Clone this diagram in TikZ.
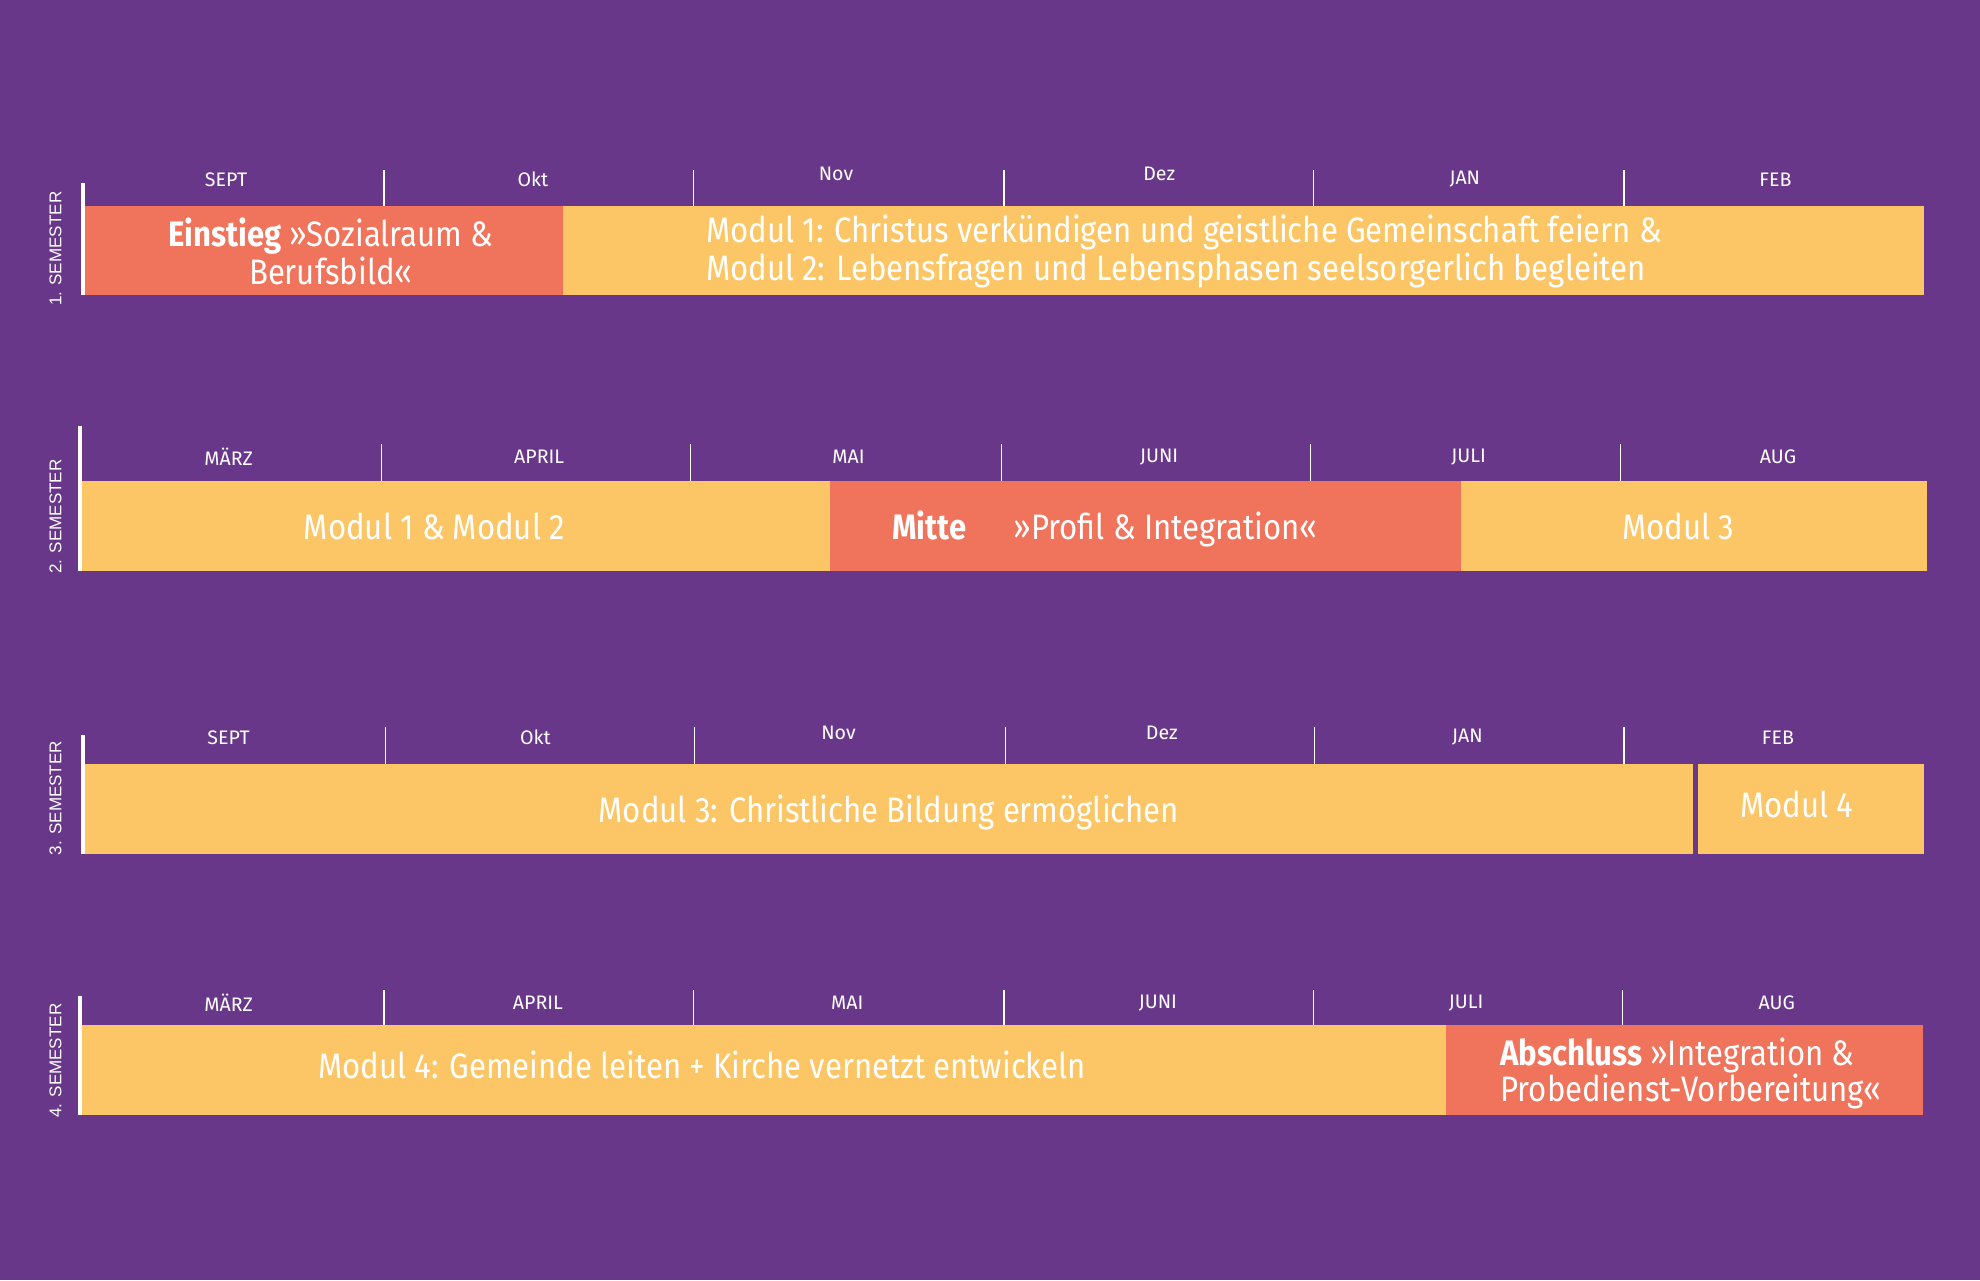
\documentclass[tikz,border=0pt]{standalone}
\usepackage{fontspec}
\setmainfont{Fira Sans}[FakeStretch=0.88]
\newfontfamily\monthfont{Fira Sans}
\newfontfamily\semfont{Liberation Sans}
\definecolor{bg}{RGB}{105,55,137}
\definecolor{yel}{RGB}{252,198,103}
\definecolor{cor}{RGB}{240,116,92}
\tikzset{
  box/.style={anchor=north west, inner sep=0pt, outer sep=0pt, minimum height=71pt},
  month/.style={text=white, inner sep=0pt, font=\monthfont\fontsize{15.5}{15.5}\selectfont},
  big/.style={text=white, inner sep=0pt, align=center, font=\fontsize{28}{30}\selectfont},
  sem/.style={text=white, inner sep=0pt, rotate=90, font=\semfont\fontsize{13.5}{13.5}\selectfont},
  tickline/.style={draw=white, line width=1pt},
  vbar/.style={draw=white, line width=3.5pt}
}
\begin{document}
\begin{tikzpicture}[x=1pt,y=-1pt]
\fill[bg] (0,0) rectangle (1568,1014);
\useasboundingbox (0,0) rectangle (1568,1014);

% ---------- Semester 1 ----------
\node[sem] (s1) at (44,197) {1. SEMESTER};
\draw[vbar] (65.5,145) -- (65.5,234);
\foreach \x in {304,549,795,1040,1286} \draw[tickline] (\x,135) -- (\x,163);
\node[month] (m1a) at (179,142) {SEPT};
\node[month] (m1b) at (422,142) {Okt};
\node[month] (m1c) at (662,138) {Nov};
\node[month] (m1d) at (918,138) {Dez};
\node[month] (m1e) at (1160,142) {JAN};
\node[month] (m1f) at (1406,142) {FEB};
\node[box, fill=cor, minimum width=379pt] (b1a) at (67,163) {};
\node[box, fill=yel, minimum width=1078pt] (b1b) at (446,163) {};
\node[big] (t1a) at (262,199) {\textbf{Einstieg} »Sozialraum \&\\Berufsbild«};
\node[big, align=left, anchor=west] (t1b) at (559,199) {Modul 1: Christus verkündigen und geistliche Gemeinschaft feiern \&\\Modul 2: Lebensfragen und Lebensphasen seelsorgerlich begleiten};

% ---------- Semester 2 ----------
\node[sem] (s2) at (44,409) {2. SEMESTER};
\draw[vbar] (63.5,337) -- (63.5,452);
\foreach \x in {302,547,793,1038,1283} \draw[tickline] (\x,352) -- (\x,381);
\node[month] (m2a) at (181,362) {MÄRZ};
\node[month] (m2b) at (427,362) {APRIL};
\node[month] (m2c) at (672,362) {MAI};
\node[month] (m2d) at (918,362) {JUNI};
\node[month] (m2e) at (1163,362) {JULI};
\node[month] (m2f) at (1408,362) {AUG};
\node[box, fill=yel, minimum width=593pt] (b2a) at (65,381) {};
\node[box, fill=cor, minimum width=500pt] (b2b) at (657,381) {};
\node[box, fill=yel, minimum width=369pt] (b2c) at (1157,381) {};
\node[big, anchor=base] (t2a) at (344,427) {Modul 1 \& Modul 2};
\node[big, anchor=base] (t2b) at (736,427) {\textbf{Mitte}};
\node[big, anchor=base] (t2c) at (923,427) {»Profil \& Integration«};
\node[big, anchor=base] (t2d) at (1329,427) {Modul 3};

% ---------- Semester 3 ----------
\node[sem] (s3) at (44,632) {3. SEMESTER};
\draw[vbar] (65.5,582) -- (65.5,676);
\foreach \x in {305,550,796,1041,1286} \draw[tickline] (\x,576) -- (\x,605);
\node[month] (m3a) at (181,584) {SEPT};
\node[month] (m3b) at (424,584) {Okt};
\node[month] (m3c) at (664,580) {Nov};
\node[month] (m3d) at (920,580) {Dez};
\node[month] (m3e) at (1162,584) {JAN};
\node[month] (m3f) at (1408,584) {FEB};
\node[box, fill=yel, minimum width=1274pt] (b3a) at (67,605) {};
\node[box, fill=yel, minimum width=179pt] (b3b) at (1345,605) {};
\node[big, anchor=base] (t3a) at (704,651) {Modul 3: Christliche Bildung ermöglichen};
\node[big, anchor=base] (t3b) at (1423,647) {Modul 4};

% ---------- Semester 4 ----------
\node[sem] (s4) at (44,840) {4. SEMESTER};
\draw[vbar] (63.5,789) -- (63.5,883);
\foreach \x in {304,549,795,1040,1285} \draw[tickline] (\x,784) -- (\x,812);
\node[month] (m4a) at (181,794) {MÄRZ};
\node[month] (m4b) at (426,794) {APRIL};
\node[month] (m4c) at (671,794) {MAI};
\node[month] (m4d) at (917,794) {JUNI};
\node[month] (m4e) at (1161,794) {JULI};
\node[month] (m4f) at (1407,794) {AUG};
\node[box, fill=yel, minimum width=1080pt] (b4a) at (65,812) {};
\node[box, fill=cor, minimum width=378pt] (b4b) at (1145,812) {};
\node[big, anchor=base] (t4a) at (556,854) {Modul 4: Gemeinde leiten + Kirche vernetzt entwickeln};
\node[big, align=left, anchor=west, font=\fontsize{28}{28}\selectfont] (t4b) at (1188,850) {\textbf{Abschluss} »Integration \&\\Probedienst-Vorbereitung«};
\end{tikzpicture}
\end{document}
